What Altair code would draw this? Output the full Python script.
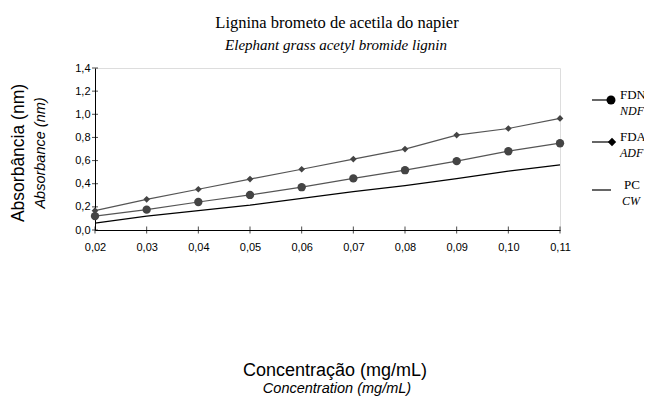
import altair as alt
import pandas as pd

conc = [0.02, 0.03, 0.04, 0.05, 0.06, 0.07, 0.08, 0.09, 0.10, 0.11]
fdn = [0.12, 0.176, 0.242, 0.303, 0.370, 0.446, 0.517, 0.595, 0.681, 0.750]
fda = [0.167, 0.265, 0.352, 0.440, 0.525, 0.613, 0.699, 0.820, 0.877, 0.964]
pc = [0.060, 0.120, 0.167, 0.215, 0.274, 0.332, 0.383, 0.444, 0.508, 0.563]
y_ticks = [0.0, 0.2, 0.4, 0.6, 0.8, 1.0, 1.2, 1.4]

title_pt = "Lignina brometo de acetila do napier"
title_en = "Elephant grass acetyl bromide lignin"
ytitle_pt = "Absorbância (nm)"
ytitle_en = "Absorbance (nm)"
xtitle_pt = "Concentração (mg/mL)"
xtitle_en = "Concentration (mg/mL)"

W, H = 465, 162

df = pd.DataFrame({
    "conc": conc * 3,
    "abs": fdn + fda + pc,
    "serie": ["FDN"] * 10 + ["FDA"] * 10 + ["PC"] * 10,
})

xs = alt.Scale(domain=[0.02, 0.11], nice=False, zero=False)
ys = alt.Scale(domain=[0, 1.4], nice=False, zero=False)

x_axis = alt.Axis(values=conc, labelExpr="replace(format(datum.value, '.2f'), '.', ',')",
                  title=None, ticks=False, tickSize=0, labelPadding=11, grid=False,
                  labelOverlap=False, labelFlush=False, labelBound=False,
                  domainColor="black", labelFont="Liberation Sans", labelFontSize=11,
                  labelColor="black")
y_axis = alt.Axis(values=y_ticks, labelExpr="replace(format(datum.value, '.1f'), '.', ',')",
                  title=None, ticks=False, tickSize=0, labelPadding=5, grid=False,
                  labelOverlap=False, labelFlush=False, labelBound=False,
                  domainColor="black", labelFont="Liberation Sans", labelFontSize=11,
                  labelColor="black")

X = alt.X("conc:Q", scale=xs, axis=x_axis)
Y = alt.Y("abs:Q", scale=ys, axis=y_axis)

base = alt.Chart(df)

pc_line = base.transform_filter(alt.datum.serie == "PC").mark_line(
    color="black", strokeWidth=1.2).encode(x=X, y=Y)

fdn_line = base.transform_filter(alt.datum.serie == "FDN").mark_line(
    color="#555555", strokeWidth=1.2,
    point=alt.OverlayMarkDef(shape="circle", size=70, color="#444444", filled=True, opacity=1)).encode(
    x=X, y=Y)

fda_line = base.transform_filter(alt.datum.serie == "FDA").mark_line(
    color="#555555", strokeWidth=1.2,
    point=alt.OverlayMarkDef(shape="diamond", size=45, color="#444444", filled=True, opacity=1)).encode(
    x=X, y=Y)

xt_df = pd.DataFrame({"conc": conc})
yt_df = pd.DataFrame({"abs": y_ticks})
xticks = alt.Chart(xt_df).mark_tick(orient="vertical", size=7, thickness=1, color="black").encode(
    x=X, y=alt.value(H))
yticks = alt.Chart(yt_df).mark_tick(orient="horizontal", size=6, thickness=1, color="black").encode(
    y=Y, x=alt.value(0))


def txt(s, x, y, size, font="Liberation Sans", style="normal", angle=0, align="center"):
    return alt.Chart(pd.DataFrame({"s": [s]})).mark_text(
        font=font, fontSize=size, fontStyle=style, angle=angle, align=align,
        baseline="middle", color="black").encode(text="s:N", x=alt.value(x), y=alt.value(y))


texts = [
    txt(title_pt, 242, -45, 16.5, font="Liberation Serif"),
    txt(title_en, 241, -23, 15, font="Liberation Serif", style="italic"),
    txt(ytitle_pt, -76, 85, 17.5, angle=270),
    txt(ytitle_en, -54, 85, 14.5, style="italic", angle=270),
    txt(xtitle_pt, 240, 303, 18),
    txt(xtitle_en, 242, 321, 14.5, style="italic"),
]

# legend
leg = []
leg_names = ["FDN", "FDA", "PC"]
leg_en = ["NDF", "ADF", "CW"]
leg_y = [32, 74, 122]
for i in range(3):
    leg.append(alt.Chart(pd.DataFrame({"a": [0]})).mark_rule(color="black", strokeWidth=1.2).encode(
        x=alt.value(497), x2=alt.value(516), y=alt.value(leg_y[i])))
leg.append(alt.Chart(pd.DataFrame({"a": [0]})).mark_point(shape="circle", filled=True, size=80,
                                                          color="black", opacity=1).encode(
    x=alt.value(516), y=alt.value(leg_y[0])))
leg.append(alt.Chart(pd.DataFrame({"a": [0]})).mark_point(shape="diamond", filled=True, size=70,
                                                          color="black", opacity=1).encode(
    x=alt.value(517), y=alt.value(leg_y[1])))
leg_tx = [525, 525, 529]
leg_ex = [525, 525, 527]
for i in range(3):
    leg.append(txt(leg_names[i], leg_tx[i], leg_y[i] - 5, 13, font="Liberation Serif", align="left"))
    leg.append(txt(leg_en[i], leg_ex[i], leg_y[i] + 11, 12, font="Liberation Serif",
                   style="italic", align="left"))

chart = alt.layer(pc_line, fdn_line, fda_line, xticks, yticks, *texts, *leg).properties(
    width=W, height=H,
    autosize=alt.AutoSizeParams(type="none"),
    padding={"left": 87, "top": 60, "right": 84, "bottom": 166},
).configure_view(stroke=None).configure_axis(
    labelOverlap=False, labelFlush=False, labelBound=False
).configure(background="white")

chart.save("out.html", embed_options={"renderer": "svg", "actions": False})
